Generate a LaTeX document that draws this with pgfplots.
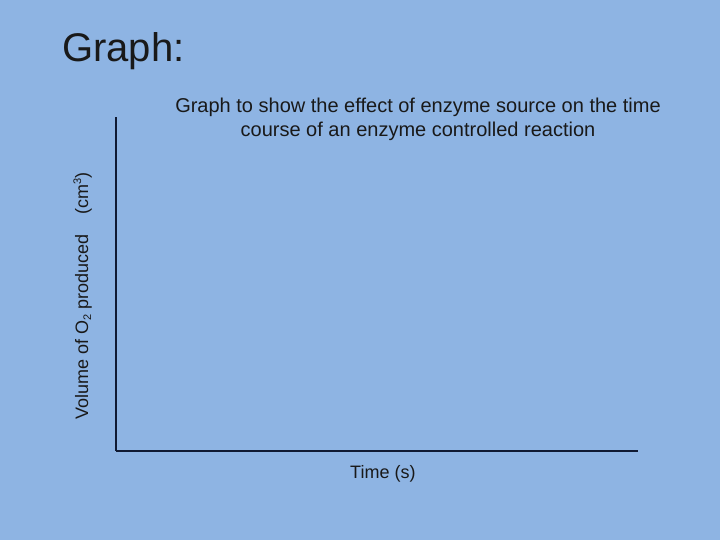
\documentclass[border=0pt]{standalone}
\usepackage{pgfplots}
\pgfplotsset{compat=1.18}
\usepackage{fontspec}
\setmainfont{Liberation Sans}
\definecolor{slide}{HTML}{8EB4E3}
\definecolor{axisline}{HTML}{101A33}
\newcommand{\lowtwo}[1]{{\fontsize{11}{11}\selectfont\raisebox{-3pt}{#1}}}
\newcommand{\hightwo}[1]{{\fontsize{11}{11}\selectfont\raisebox{7pt}{#1}}}
\begin{document}
\begin{tikzpicture}
\fill[slide] (0,0) rectangle (720pt,540pt);
\useasboundingbox (0,0) rectangle (720pt,540pt);
% slide heading
\node[anchor=base west, inner sep=0, font=\fontsize{40}{48}\selectfont, text=black!90] at (62pt,478pt) {Graph:};
% empty graph frame
\begin{axis}[
    at={(116pt,89pt)}, anchor=south west,
    scale only axis, width=522pt, height=334pt,
    axis x line=bottom, axis y line=left,
    axis line style={-, draw=axisline, line width=1.2pt},
    ticks=none,
    xmin=0, xmax=10, ymin=0, ymax=10,
]
\end{axis}
\begin{scope}[every node/.style={inner sep=0, font=\fontsize{18}{22}\selectfont, text=black!90}]
\node[anchor=base, font=\fontsize{20}{24}\selectfont] at (418pt,427pt) {Graph to show the effect of enzyme source on the time};
\node[anchor=base, font=\fontsize{20}{24}\selectfont] at (418pt,403pt) {course of an enzyme controlled reaction};
\node[rotate=90, anchor=base west] at (88pt,120pt) {Volume of O\lowtwo{2} produced};
\node[rotate=90, anchor=base west] at (88pt,325pt) {(cm\hightwo{3})};
\node[anchor=base west] at (350pt,61pt) {Time (s)};
\end{scope}
\end{tikzpicture}
\end{document}
